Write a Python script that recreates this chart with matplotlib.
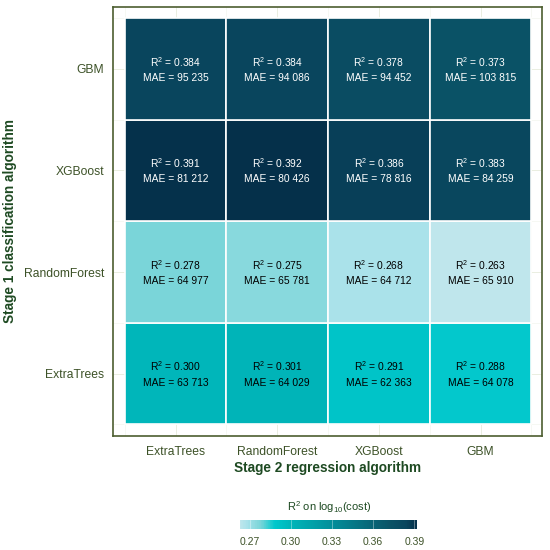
import matplotlib
matplotlib.use("Agg")
import matplotlib.pyplot as plt
import numpy as np
from matplotlib.colors import LinearSegmentedColormap, Normalize
from matplotlib.colorbar import ColorbarBase

plt.rcParams['font.family'] = ['Liberation Sans', 'DejaVu Sans']
plt.rcParams['mathtext.fontset'] = 'custom'
plt.rcParams['mathtext.rm'] = 'Liberation Sans'
plt.rcParams['mathtext.it'] = 'Liberation Sans:italic'

stage2 = ["ExtraTrees", "RandomForest", "XGBoost", "GBM"]
stage1 = ["ExtraTrees", "RandomForest", "XGBoost", "GBM"]  # bottom to top

r2 = {
    "GBM":          [0.384, 0.384, 0.378, 0.373],
    "XGBoost":      [0.391, 0.392, 0.386, 0.383],
    "RandomForest": [0.278, 0.275, 0.268, 0.263],
    "ExtraTrees":   [0.300, 0.301, 0.291, 0.288],
}
mae = {
    "GBM":          [95235, 94086, 94452, 103815],
    "XGBoost":      [81212, 80426, 78816, 84259],
    "RandomForest": [64977, 65781, 64712, 65910],
    "ExtraTrees":   [63713, 64029, 62363, 64078],
}
cbar_ticks = [0.27, 0.30, 0.33, 0.36, 0.39]

vmin, vmax = 0.263, 0.392
nodes = [(0.263, "#bfe6ec"), (0.268, "#a8e2ea"), (0.275, "#86d8dc"),
         (0.278, "#78d5d9"), (0.288, "#00c8cc"),
         (0.301, "#00b4b8"), (0.33, "#038e9a"), (0.373, "#0a5266"),
         (0.384, "#09465e"), (0.392, "#05304a")]
cmap = LinearSegmentedColormap.from_list(
    "c", [((v - vmin) / (vmax - vmin), c) for v, c in nodes])
norm = Normalize(vmin, vmax)

fig = plt.figure(figsize=(5.5, 5.5), dpi=100)
ax = fig.add_axes([0.2055, 0.2073, 0.78, 0.78])

grid_c = "#e6ebdc"
for i in range(1, 5):
    ax.axvline(i, color=grid_c, lw=0.6, zorder=0)
    ax.axhline(i, color=grid_c, lw=0.6, zorder=0)
for i in np.arange(0.5, 5, 1.0):
    ax.axvline(i, color="#f0f3ea", lw=0.4, zorder=0)
    ax.axhline(i, color="#f0f3ea", lw=0.4, zorder=0)

for yi, s1 in enumerate(stage1):
    for xi, s2 in enumerate(stage2):
        v = r2[s1][xi]
        x, y = xi + 1, yi + 1
        ax.add_patch(plt.Rectangle((x - 0.5, y - 0.5), 1, 1,
                                   facecolor=cmap(norm(v)), edgecolor="white",
                                   lw=1.2, zorder=2))
        tc = "white" if v > 0.33 else "black"
        ax.annotate(r"R$^{2}$ = %.3f" % v, (x, y), xytext=(0, 5),
                    textcoords="offset points", ha="center", va="center",
                    fontsize=7.4, color=tc, zorder=3)
        ax.annotate("MAE = " + f"{mae[s1][xi]:,}".replace(",", " "), (x, y),
                    xytext=(0, -6.5), textcoords="offset points", ha="center",
                    va="center", fontsize=7.4, color=tc, zorder=3)

ax.set_xlim(0.385, 4.605)
ax.set_ylim(0.385, 4.61)
ax.set_xticks(range(1, 5))
ax.set_xticklabels(stage2)
ax.set_yticks(range(1, 5))
ax.set_yticklabels(stage1)
ax.tick_params(length=0, labelsize=8.7, labelcolor="#3d5228")
ax.tick_params(axis='y', pad=6.5)
ax.tick_params(axis='x', pad=7.5)
for sp in ax.spines.values():
    sp.set_color("#4d5e30")
    sp.set_linewidth(1.2)
ax.set_xlabel("Stage 2 regression algorithm", fontsize=9.8, fontweight="bold",
              color="#1e4a22", labelpad=2)
ax.set_ylabel("Stage 1 classification algorithm", fontsize=9.8, fontweight="bold",
              color="#1e4a22", labelpad=5)

cax = fig.add_axes([0.4364, 0.0382, 0.3218, 0.0164])
cb = ColorbarBase(cax, cmap=cmap, norm=norm, orientation="horizontal",
                  ticks=cbar_ticks)
cb.outline.set_visible(False)
cb.ax.set_xticklabels(["%.2f" % t for t in cbar_ticks])
cax.tick_params(length=0, labelsize=7.5, labelcolor="#3d5228", pad=5.5)
for t in cbar_ticks:
    cax.axvline(t, color="white", lw=0.5, alpha=0.5)
fig.text(0.598, 0.078, r"R$^{2}$ on log$_{10}$(cost)", ha="center",
         va="center", fontsize=8, color="#1e4a22")

fig.savefig("out.png", dpi=100, facecolor="white")
